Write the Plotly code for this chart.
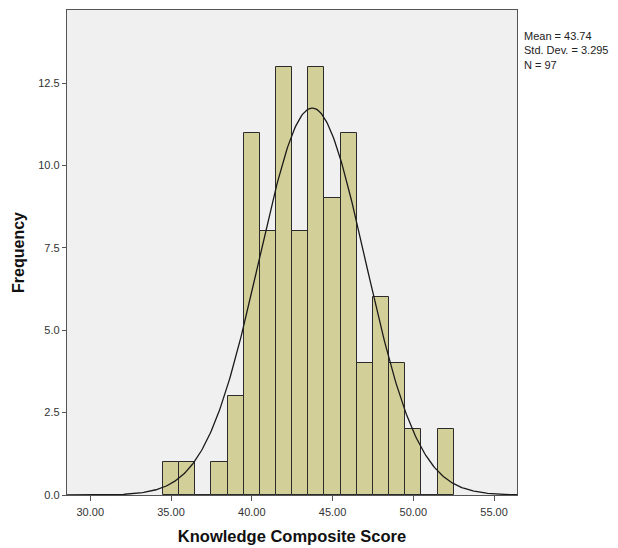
import numpy as np
import plotly.graph_objects as go

# Data (bin centres, width 1)
bin_centers = [35, 36, 37, 38, 39, 40, 41, 42, 43, 44, 45, 46, 47, 48, 49, 50, 51, 52]
frequencies = [1, 1, 0, 1, 3, 11, 8, 13, 8, 13, 9, 11, 4, 6, 4, 2, 0, 2]
mean_val = 43.74
sd_val = 3.295
n_val = 97
bin_width = 1.0

x_tickvals = [30, 35, 40, 45, 50, 55]
x_ticktext = ["30.00", "35.00", "40.00", "45.00", "50.00", "55.00"]
y_tickvals = [0, 2.5, 5.0, 7.5, 10.0, 12.5]
y_ticktext = ["0.0", "2.5", "5.0", "7.5", "10.0", "12.5"]

x_range = [28.56, 56.42]
y_range = [0, 14.72]

xc = np.linspace(x_range[0], x_range[1], 400)
yc = n_val * bin_width / (sd_val * np.sqrt(2 * np.pi)) * np.exp(-0.5 * ((xc - mean_val) / sd_val) ** 2)

font_family = "Liberation Sans, Arial, sans-serif"

fig = go.Figure()
fig.add_trace(go.Bar(
    x=bin_centers, y=frequencies, width=bin_width,
    marker=dict(color="#D3CF98", line=dict(color="#2b2b2b", width=1)),
    hoverinfo="x+y", showlegend=False,
))
fig.add_trace(go.Scatter(
    x=xc, y=yc, mode="lines", line=dict(color="#1a1a1a", width=1.3),
    showlegend=False, hoverinfo="skip",
))

fig.update_layout(
    width=618, height=548,
    margin=dict(l=59, r=109, t=2, b=61),
    paper_bgcolor="white", plot_bgcolor="#F0F0F0",
    font=dict(family=font_family, size=11, color="#222"),
    bargap=0,
    xaxis=dict(
        range=x_range, tickvals=x_tickvals, ticktext=x_ticktext,
        ticks="outside", ticklen=5, tickcolor="#555", tickwidth=1,
        ticklabelstandoff=2,
        showgrid=False, zeroline=False,
        showline=True, linecolor="#555", linewidth=1.3, mirror=True,
        title=dict(text="<b>Knowledge Composite Score</b>", font=dict(size=16.5, color="#111"), standoff=13),
        tickfont=dict(size=11, color="#333"),
    ),
    yaxis=dict(
        range=y_range, tickvals=y_tickvals, ticktext=y_ticktext,
        ticks="outside", ticklen=4, tickcolor="#555", tickwidth=1,
        showgrid=False, zeroline=False,
        showline=True, linecolor="#555", linewidth=1.3, mirror=True,
        title=dict(text="<b>Frequency</b>", font=dict(size=16, color="#111"), standoff=9),
        tickfont=dict(size=11, color="#333"),
    ),
    annotations=[dict(
        xref="paper", yref="paper", x=1.0, y=0.962, xshift=5,
        xanchor="left", yanchor="top", align="left", showarrow=False,
        text=f"Mean = {mean_val:.2f}<br>Std. Dev. = {sd_val:.3f}<br>N = {n_val}",
        font=dict(size=11, color="#222"),
    )],
)

fig.write_html("out.html")
